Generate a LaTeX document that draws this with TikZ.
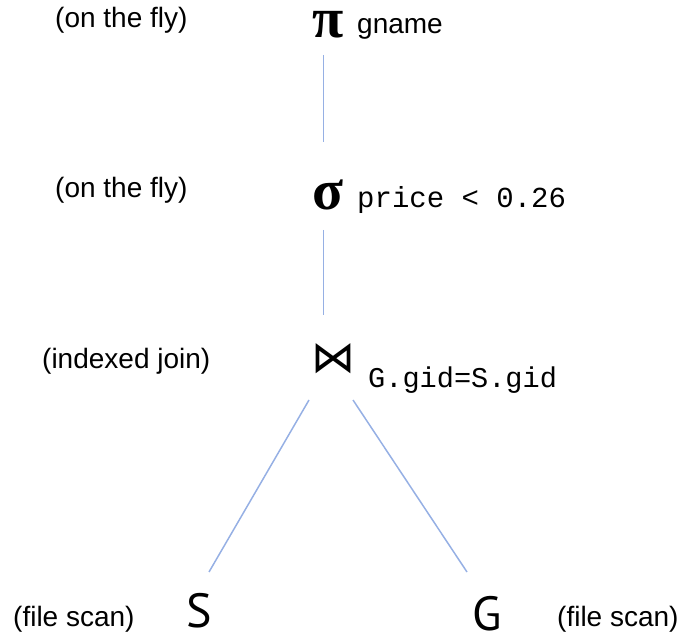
\documentclass[tikz,border=0pt]{standalone}
\usepackage{fontspec}
\setmainfont{Liberation Sans}
\newfontfamily\monof{Liberation Mono}
\newfontfamily\greekf{Liberation Serif}
\newfontfamily\symf{DejaVu Sans}
\newfontfamily\relf{PT Sans}
\definecolor{edgeblue}{RGB}{150,176,228}
\begin{document}
\begin{tikzpicture}[x=1pt,y=-1pt,
  lab/.style={anchor=base west,inner sep=0pt,font=\fontsize{28}{28}\selectfont},
  opsym/.style={anchor=base west,inner sep=0pt,text height=28pt,text depth=0pt,font=\greekf\bfseries\fontsize{57}{57}\selectfont},
  sub/.style={anchor=base west,inner sep=0pt},
  rel/.style={anchor=base west,inner sep=0pt,font=\relf\fontsize{48}{48}\selectfont},
  edge/.style={draw=edgeblue,line width=1.5pt}]
\useasboundingbox (0,0) rectangle (686,644);
% labels
\node[lab] (l1) at (55,28) {(on the fly)};
\node[lab] (l2) at (55,198) {(on the fly)};
\node[lab] (l3) at (42,369) {(indexed join)};
\node[lab] (l4) at (13,626) {(file scan)};
\node[lab] (l5) at (557,626) {(file scan)};
% operators
\node[opsym] (pi) at (312,38) {π};
\node[sub,font=\fontsize{28}{28}\selectfont] (pisub) at (357,34) {gname};
\node[opsym] (sigma) at (312,210) {σ};
\node[sub,font=\monof\fontsize{29}{29}\selectfont] (sigsub) at (357,208) {price < 0.26};
\node[sub,font=\symf\fontsize{44}{44}\selectfont] (join) at (311,373) {⋈};
\node[sub,font=\monof\fontsize{28.6}{28.6}\selectfont] (joinsub) at (368,388) {G.gid=S.gid};
\node[rel] (S) at (186,627) {S};
\node[rel] (G) at (472,630) {G};
% connectors
\coordinate (a1) at (323.5,55);
\coordinate (a2) at (323.5,142);
\coordinate (b1) at (323.5,230);
\coordinate (b2) at (323.5,315);
\coordinate (c1) at (309,400);
\coordinate (c2) at (209,572);
\coordinate (d1) at (353,400);
\coordinate (d2) at (467,572);
\draw[edge] (a1) -- (a2);
\draw[edge] (b1) -- (b2);
\draw[edge] (c1) -- (c2);
\draw[edge] (d1) -- (d2);
\end{tikzpicture}
\end{document}
